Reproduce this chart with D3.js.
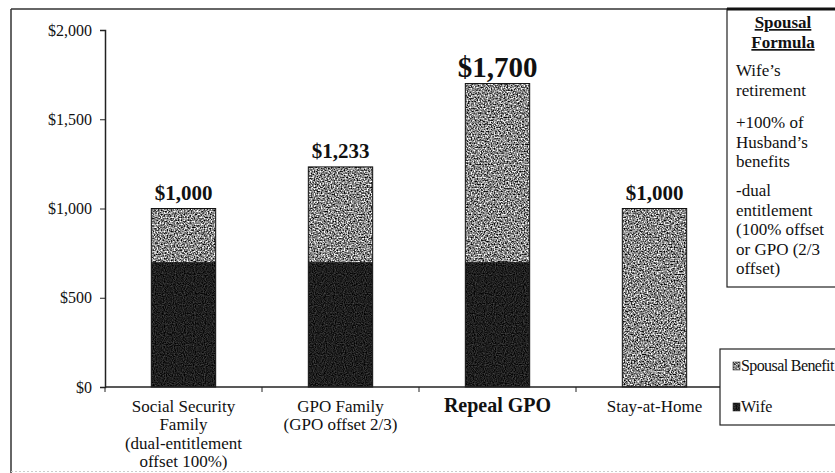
<!DOCTYPE html>
<html>
<head>
<meta charset="utf-8">
<script src="https://cdn.jsdelivr.net/npm/d3@7"></script>
<style>
  html, body { margin: 0; padding: 0; background: #fff; }
  svg { display: block; }
  text { font-family: "Liberation Serif", "Times New Roman", serif; fill: #111; }
</style>
</head>
<body>
<svg id="chart" width="835" height="473"></svg>
<script>
// Monthly benefit by family type
const categories = ["ss", "gpo", "repeal", "home"];
const categoryLines = {
  ss: ["Social Security", "Family", "(dual-entitlement", "offset 100%)"],
  gpo: ["GPO Family", "(GPO offset 2/3)"],
  repeal: ["Repeal GPO"],
  home: ["Stay-at-Home"]
};
const wife = [700, 700, 700, 0];
const spousalBenefit = [300, 533, 1000, 1000];
const totalLabels = ["$1,000", "$1,233", "$1,700", "$1,000"];
const yTicks = [0, 500, 1000, 1500, 2000];
const seriesNames = ["Spousal Benefit", "Wife"];
const formulaTitle = ["Spousal", "Formula"];
const formulaLines = [
  ["Wife\u2019s", "retirement"],
  ["+100% of", "Husband\u2019s", "benefits"],
  ["-dual", "entitlement", "(100% offset", "or GPO (2/3", "offset)"]
];

const svg = d3.select("#chart");

// Speckled fills for the two series
const defs = svg.append("defs");
function speckle(id, gain, offset, seed, freq) {
  const f = defs.append("filter").attr("id", id)
    .attr("x", 0).attr("y", 0).attr("width", 1).attr("height", 1)
    .attr("color-interpolation-filters", "sRGB");
  f.append("feTurbulence").attr("type", "fractalNoise")
    .attr("baseFrequency", freq).attr("numOctaves", 1).attr("seed", seed).attr("result", "n");
  const row = `${gain} 0 0 0 ${offset}`;
  f.append("feColorMatrix").attr("in", "n").attr("type", "matrix")
    .attr("values", `${row} ${row} ${row} 0 0 0 0 1`).attr("result", "g");
  f.append("feComposite").attr("in", "g").attr("in2", "SourceGraphic").attr("operator", "in");
}
speckle("speckleSpousal", 2.3, -0.62, 7, 0.7);
speckle("speckleWife", 0.5, -0.13, 3, 0.9);
const fills = { "Spousal Benefit": "url(#speckleSpousal)", "Wife": "url(#speckleWife)" };

// Outer frame
svg.append("line").attr("x1", 11).attr("x2", 11).attr("y1", 9).attr("y2", 473)
  .attr("stroke", "#333").attr("stroke-width", 1.5);
svg.append("line").attr("x1", 11).attr("x2", 727).attr("y1", 9).attr("y2", 9)
  .attr("stroke", "#333").attr("stroke-width", 1.5);
svg.append("line").attr("x1", 11).attr("x2", 835).attr("y1", 471.5).attr("y2", 471.5)
  .attr("stroke", "#ccc").attr("stroke-width", 1).attr("stroke-dasharray", "2,2");

// Scales
const x = d3.scaleBand().domain(categories).range([105, 733])
  .paddingInner(0.59).paddingOuter(0.295);
const y = d3.scaleLinear().domain([0, 2000]).range([387, 30]);

// Stacked data
const rows = categories.map((c, i) => ({ cat: c, "Wife": wife[i], "Spousal Benefit": spousalBenefit[i] }));
const stack = d3.stack().keys(["Wife", "Spousal Benefit"]);
const layers = stack(rows);

const g = svg.append("g");
layers.forEach(layer => {
  const sel = g.selectAll(null).data(layer.filter(d => d[1] > d[0])).enter();
  sel.append("rect")
    .attr("x", d => x(d.data.cat)).attr("width", x.bandwidth())
    .attr("y", d => y(d[1])).attr("height", d => y(d[0]) - y(d[1]))
    .attr("fill", "#888").attr("filter", fills[layer.key]);
});
// Bar outlines
g.selectAll(".outline").data(rows).enter().append("rect")
  .attr("x", d => x(d.cat)).attr("width", x.bandwidth())
  .attr("y", d => y(d["Wife"] + d["Spousal Benefit"]))
  .attr("height", d => y(0) - y(d["Wife"] + d["Spousal Benefit"]))
  .attr("fill", "none").attr("stroke", "#111").attr("stroke-width", 1);

// Total labels
g.selectAll(".total").data(rows).enter().append("text")
  .attr("x", d => x(d.cat) + x.bandwidth() / 2)
  .attr("y", (d, i) => y(d["Wife"] + d["Spousal Benefit"]) - (i === 2 ? 7 : 9))
  .attr("text-anchor", "middle").attr("font-weight", "bold")
  .attr("font-size", (d, i) => i === 2 ? "29px" : "21px")
  .text((d, i) => totalLabels[i]);

// Y axis
const yAxis = svg.append("g").attr("transform", "translate(105,0)")
  .call(d3.axisLeft(y).tickValues(yTicks).tickSize(5).tickPadding(8)
    .tickFormat(d => "$" + d3.format(",")(d)));
yAxis.select(".domain").attr("stroke", "#222").attr("stroke-width", 1.5);
yAxis.selectAll(".tick line").attr("stroke", "#222");
yAxis.selectAll(".tick text").attr("font-family", "Liberation Serif, serif")
  .attr("font-size", "16px").attr("fill", "#111");

// X axis with ticks at category boundaries
const xAxis = svg.append("g");
xAxis.append("line").attr("x1", 105).attr("x2", 733).attr("y1", y(0)).attr("y2", y(0))
  .attr("stroke", "#222").attr("stroke-width", 1.5);
const step = x.step();
const bounds = categories.map(c => x(c) - step * x.paddingInner() / 2).concat([733]);
xAxis.selectAll(".tk").data(bounds).enter().append("line")
  .attr("x1", d => d).attr("x2", d => d).attr("y1", y(0)).attr("y2", y(0) + 5)
  .attr("stroke", "#222");

categories.forEach(c => {
  const cx = x(c) + x.bandwidth() / 2;
  const bold = c === "repeal";
  const t = xAxis.append("text").attr("x", cx).attr("y", 412)
    .attr("text-anchor", "middle")
    .attr("font-size", bold ? "20px" : "17px")
    .attr("font-weight", bold ? "bold" : "normal");
  categoryLines[c].forEach((line, i) => {
    t.append("tspan").attr("x", cx).attr("dy", i === 0 ? 0 : 18.3).text(line);
  });
});

// Formula box
const fb = svg.append("g");
fb.append("rect").attr("x", 727).attr("y", 9).attr("width", 120).attr("height", 278)
  .attr("fill", "#fff").attr("stroke", "#222").attr("stroke-width", 1.2);
fb.append("line").attr("x1", 727).attr("x2", 835).attr("y1", 9).attr("y2", 9)
  .attr("stroke", "#111").attr("stroke-width", 3);
formulaTitle.forEach((s, i) => {
  fb.append("text").attr("x", 783).attr("y", 28 + i * 20).attr("text-anchor", "middle")
    .attr("font-size", "17px").attr("font-weight", "bold")
    .attr("text-decoration", "underline").text(s);
});
const groupStart = [76, 128, 196];
formulaLines.forEach((grp, gi) => {
  grp.forEach((s, i) => {
    fb.append("text").attr("x", 736).attr("y", groupStart[gi] + i * 19.6)
      .attr("font-size", "17px").text(s);
  });
});

// Legend
const lg = svg.append("g");
lg.append("rect").attr("x", 720).attr("y", 349).attr("width", 130).attr("height", 76)
  .attr("fill", "#fff").attr("stroke", "#222").attr("stroke-width", 1.2);
seriesNames.forEach((name, i) => {
  const yy = 362 + i * 41;
  lg.append("rect").attr("x", 733).attr("y", yy).attr("width", 7).attr("height", 8)
    .attr("fill", "#888").attr("filter", fills[name]);
  lg.append("rect").attr("x", 733).attr("y", yy).attr("width", 7).attr("height", 8)
    .attr("fill", "none").attr("stroke", "#333").attr("stroke-width", 0.6);
  lg.append("text").attr("x", 741).attr("y", yy + 9).attr("font-size", "16px")
    .attr("letter-spacing", name === "Spousal Benefit" ? "-0.6px" : "0").text(name);
});
</script>
</body>
</html>
